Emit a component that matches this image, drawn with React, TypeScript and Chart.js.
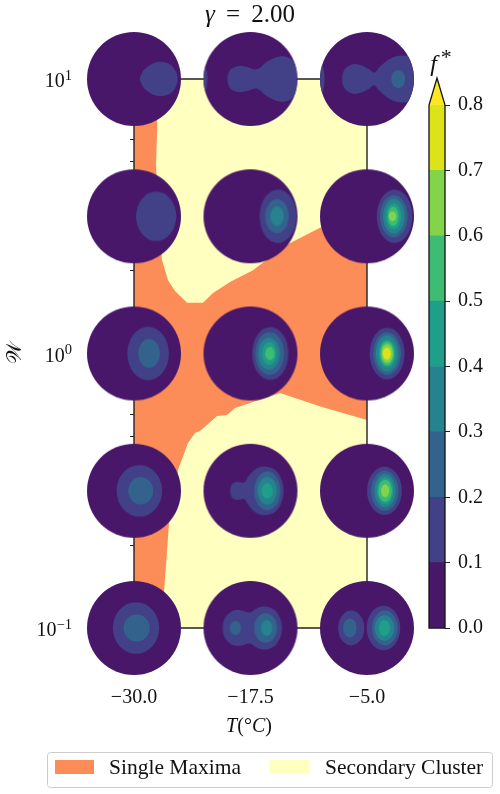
import React, { useEffect, useRef } from "react";
import { Chart, registerables } from "chart.js";

Chart.register(...registerables);

const FONT = '"Liberation Serif", serif';
const MATH_FONT = '"DejaVu Serif", "DejaVu Sans", "Noto Sans", serif';
const INK = "#111111";

// Axes
const xTickValues = [-30, -17.5, -5];
const yMajorTicks = [0.1, 1, 10];
const yMajorExponents = ["\u22121", "0", "1"];
const yMinorTicks = [0.2, 0.3, 0.4, 0.5, 0.6, 0.7, 0.8, 0.9, 2, 3, 4, 5, 6, 7, 8, 9];
const colorbarTicks = [0, 0.1, 0.2, 0.3, 0.4, 0.5, 0.6, 0.7, 0.8];

// Filled regimes
const singleMaximaLabel = "Single Maxima";
const secondaryClusterLabel = "Secondary Cluster";
const singleMaximaColor = "#fc8d59";
const secondaryClusterColor = "#ffffbf";
const upperT = [-27.64, -27.5, -27.64, -27.42, -27.0, -26.67, -26.35, -25.6, -24.31, -22.6, -21.52, -19.7, -17.23, -13.8, -10.04, -5];
const upperW = [10, 6.69, 4.94, 3.33, 2.19, 2.01, 1.85, 1.69, 1.53, 1.53, 1.66, 1.82, 2.01, 2.47, 2.87, 3.47];
const lowerT = [-26.89, -26.78, -26.24, -25.28, -24.21, -23.45, -22.92, -22.17, -21.09, -20.02, -19.16, -17.23, -14.33, -9.83, -5];
const lowerW = [0.1, 0.135, 0.241, 0.376, 0.472, 0.513, 0.522, 0.549, 0.592, 0.597, 0.633, 0.666, 0.718, 0.638, 0.572];

// Contour levels of f*
const levels = [0, 0.1, 0.2, 0.3, 0.4, 0.5, 0.6, 0.7, 0.8];
const levelColors = ["#481769", "#424086", "#33638d", "#26828e", "#1f9e89", "#3fbc73", "#84d44b", "#dce319"];
const overColor = "#fde725";

// Inset positions
const insetT = [-30, -17.5, -5];
const insetW = [10, 3.162, 1, 0.3162, 0.1];

// Contours inside each inset, in disc units (disc radius = 140).
// [band, cx, cy, rx, ry] is an ellipse, [band, outline] a shape mirrored about the horizontal.
const top30 = [
  [1, [[17, 0], [24, -18], [35, -33], [60, -48], [85, -51], [110, -42], [126, -20], [130, 0]]],
];
const top17 = [
  [1, -150, 0, 22, 55],
  [1, [[-69, 0], [-60, -28], [-35, -39], [-10, -36], [20, -29], [50, -52], [85, -67], [115, -63], [135, -40], [138, 0]]],
];
const top5 = [
  [1, -150, 0, 24, 60],
  [1, [[-74, 0], [-68, -27], [-45, -43], [-20, -42], [5, -30], [22, -19], [40, -38], [65, -58], [95, -69], [125, -66], [142, -45], [145, 0]]],
  [2, 93, 0, 21, 27],
];
const upper30 = [[1, 66, 0, 60, 74]];
const upper17 = [[1, 82, 0, 55, 80], [2, 79, 0, 35, 51], [3, 79, 0, 20, 30]];
const upper5 = [[1, 82, 0, 53, 80], [2, 80, 0, 41, 63], [3, 80, 0, 32, 52], [4, 79, 0, 23, 39], [5, 78, 0, 16, 29], [6, 76, 0, 11, 14.5]];
const mid30 = [[1, 42, 0, 62, 80], [2, 45, 0, 32, 43]];
const mid17 = [[1, 59, 0, 54, 79], [2, 57, 0, 43, 64], [3, 55, 0, 32, 48], [4, 56, 0, 22, 34], [5, 58, 0, 14, 20]];
const mid5 = [[1, 60, 0, 52, 77], [2, 60, 0, 41, 64], [3, 60, 0, 34, 54], [4, 60, 0, 26, 42], [5, 60, 0, 21, 36], [6, 60, 0, 17, 28], [7, 59, 0, 12, 18]];
const lower30 = [[1, 16, 0, 68, 77], [2, 20, 0, 37, 41]];
const lower17 = [
  [1, [[-61, 0], [-55, -20], [-38, -27], [-18, -25], [-5, -45], [15, -65], [40, -73], [70, -65], [90, -40], [99, 0]]],
  [2, 50, 0, 39, 58], [3, 50, 0, 29, 41], [4, 50, 0, 17, 23],
];
const lower5 = [[1, 52, 0, 52, 72], [2, 53, 0, 41, 60], [3, 54, 0, 32, 50], [4, 54, 0, 25, 40], [5, 54, 0, 20, 33], [6, 54, 0, 12, 19]];
const bottom30 = [[1, 6, 0, 69, 77], [2, 8, 0, 39, 40]];
const bottom17 = [
  [1, [[-83, 0], [-76, -30], [-55, -50], [-30, -53], [-3, -46], [15, -56], [40, -65], [70, -55], [88, -30], [94, 0]]],
  [2, -45, 0, 17, 21], [2, 45, 0, 34, 44], [3, 48, 0, 17, 24],
];
const bottom5 = [[1, -47, 0, 39, 52], [2, -51, 0, 20, 28], [1, 49, 0, 50, 66], [2, 53, 0, 38, 52], [3, 52, 0, 29, 38], [4, 52, 0, 17, 24]];

const insetContours = [
  top30, top17, top5,
  upper30, upper17, upper5,
  mid30, mid17, mid5,
  lower30, lower17, lower5,
  bottom30, bottom17, bottom5,
];

function makeInset(contours: any[]) {
  const size = 100;
  const radius = 47;
  const c = document.createElement("canvas");
  c.width = size;
  c.height = size;
  const g = c.getContext("2d")!;
  g.translate(size / 2, size / 2);
  g.beginPath();
  g.arc(0, 0, radius, 0, Math.PI * 2);
  g.fillStyle = levelColors[0];
  g.fill();
  g.save();
  g.beginPath();
  g.arc(0, 0, radius, 0, Math.PI * 2);
  g.clip();
  const k = radius / 140;
  for (const shape of contours) {
    g.fillStyle = levelColors[shape[0]];
    g.beginPath();
    if (Array.isArray(shape[1])) {
      const half = shape[1] as number[][];
      const lower = half.slice(1, -1).reverse().map(([u, v]) => [u, -v]);
      const pts = [...half, ...lower].map(([u, v]) => [u * k, v * k]);
      const n = pts.length;
      g.moveTo(pts[0][0], pts[0][1]);
      for (let i = 0; i < n; i++) {
        const p0 = pts[(i - 1 + n) % n];
        const p1 = pts[i];
        const p2 = pts[(i + 1) % n];
        const p3 = pts[(i + 2) % n];
        g.bezierCurveTo(
          p1[0] + (p2[0] - p0[0]) / 6,
          p1[1] + (p2[1] - p0[1]) / 6,
          p2[0] - (p3[0] - p1[0]) / 6,
          p2[1] - (p3[1] - p1[1]) / 6,
          p2[0],
          p2[1]
        );
      }
      g.closePath();
    } else {
      g.ellipse(shape[1] * k, shape[2] * k, shape[3] * k, shape[4] * k, 0, 0, Math.PI * 2);
    }
    g.fill();
  }
  g.restore();
  return c;
}

type Run = { t: string; italic?: boolean; size: number; dy?: number; font?: string };

function drawRuns(ctx: CanvasRenderingContext2D, runs: Run[], anchor: number, base: number, align: "center" | "right" = "center") {
  const setFont = (r: Run) => {
    ctx.font = `${r.italic ? "italic " : ""}${r.size}px ${r.font || FONT}`;
  };
  let total = 0;
  for (const r of runs) {
    setFont(r);
    total += ctx.measureText(r.t).width;
  }
  let x = align === "center" ? anchor - total / 2 : anchor - total;
  ctx.textAlign = "left";
  ctx.textBaseline = "alphabetic";
  ctx.fillStyle = INK;
  for (const r of runs) {
    setFont(r);
    ctx.fillText(r.t, x, base + (r.dy || 0));
    x += ctx.measureText(r.t).width;
  }
}

const annotations = {
  id: "annotations",
  afterDraw(chart: any) {
    const ctx: CanvasRenderingContext2D = chart.ctx;
    ctx.save();
    drawRuns(ctx, [{ t: "γ", italic: true, size: 25 }, { t: " \u2009=\u2009 2.00", size: 25 }], 250, 22);
    drawRuns(
      ctx,
      [
        { t: "T", italic: true, size: 20 },
        { t: "(°", size: 20 },
        { t: "C", italic: true, size: 20 },
        { t: ")", size: 20 },
      ],
      249,
      732
    );
    yMajorTicks.forEach((value, i) => {
      const py = chart.scales.y.getPixelForValue(value);
      drawRuns(
        ctx,
        [
          { t: "10", size: 20 },
          { t: yMajorExponents[i], size: 14.5, dy: -7.5 },
        ],
        72,
        py + 8,
        "right"
      );
    });
    ctx.save();
    ctx.translate(21, 353);
    ctx.rotate(-Math.PI / 2);
    drawRuns(ctx, [{ t: "\u{1D4B2}", size: 21, font: MATH_FONT }], 0, 0);
    ctx.restore();

    // legend
    ctx.beginPath();
    ctx.roundRect(47.5, 752.5, 445, 35, 3);
    ctx.fillStyle = "#ffffff";
    ctx.fill();
    ctx.strokeStyle = "#cccccc";
    ctx.lineWidth = 1;
    ctx.stroke();
    ctx.fillStyle = singleMaximaColor;
    ctx.fillRect(55, 760, 39, 14);
    ctx.fillStyle = secondaryClusterColor;
    ctx.fillRect(270, 760, 40, 14);
    ctx.fillStyle = INK;
    ctx.font = `21.5px ${FONT}`;
    ctx.textAlign = "left";
    ctx.textBaseline = "alphabetic";
    ctx.fillText(singleMaximaLabel, 109, 774);
    ctx.fillText(secondaryClusterLabel, 325, 774);
    ctx.restore();
  },
};

const colorbarDecor = {
  id: "colorbarDecor",
  afterDraw(chart: any) {
    const ctx: CanvasRenderingContext2D = chart.ctx;
    const { left, right, top, bottom } = chart.chartArea;
    const mid = (left + right) / 2;
    const tip = top - 27;
    ctx.save();
    ctx.beginPath();
    ctx.moveTo(left, top);
    ctx.lineTo(mid, tip);
    ctx.lineTo(right, top);
    ctx.closePath();
    ctx.fillStyle = overColor;
    ctx.fill();
    ctx.beginPath();
    ctx.moveTo(left, bottom);
    ctx.lineTo(left, top);
    ctx.lineTo(mid, tip);
    ctx.lineTo(right, top);
    ctx.lineTo(right, bottom);
    ctx.closePath();
    ctx.strokeStyle = INK;
    ctx.lineWidth = 1.3;
    ctx.stroke();
    drawRuns(ctx, [{ t: "f", italic: true, size: 24 }, { t: "\u2009", size: 18 }, { t: "*", size: 22, dy: -7 }], 41, 71);
    ctx.restore();
  },
};

export default function App() {
  const mainRef = useRef<HTMLCanvasElement>(null);
  const barRef = useRef<HTMLCanvasElement>(null);

  useEffect(() => {
    const insets = insetContours.map(makeInset);
    const insetPoints: { x: number; y: number }[] = [];
    insetW.forEach((w) => insetT.forEach((t) => insetPoints.push({ x: t, y: w })));

    const main = new Chart(mainRef.current!, {
      type: "line",
      data: {
        datasets: [
          {
            label: "f*",
            data: insetPoints,
            showLine: false,
            pointStyle: (c: any) => insets[c.dataIndex],
            pointRadius: 4,
            clip: false,
          },
          {
            label: "frame",
            data: [
              { x: -30, y: 0.1 },
              { x: -30, y: 10 },
              { x: -5, y: 10 },
              { x: -5, y: 0.1 },
              { x: -30, y: 0.1 },
            ],
            borderColor: "#222222",
            borderWidth: 1.4,
            pointRadius: 0,
            fill: false,
            clip: false,
          },
          {
            label: secondaryClusterLabel,
            data: upperT.map((x, i) => ({ x, y: upperW[i] })),
            borderWidth: 0,
            pointRadius: 0,
            backgroundColor: secondaryClusterColor,
            fill: "end",
          },
          {
            label: secondaryClusterLabel,
            data: lowerT.map((x, i) => ({ x, y: lowerW[i] })),
            borderWidth: 0,
            pointRadius: 0,
            backgroundColor: secondaryClusterColor,
            fill: "start",
          },
          {
            label: singleMaximaLabel,
            data: [
              { x: -30, y: 10 },
              { x: -5, y: 10 },
            ],
            borderWidth: 0,
            pointRadius: 0,
            backgroundColor: singleMaximaColor,
            fill: "start",
          },
        ] as any,
      },
      options: {
        animation: false,
        responsive: false,
        layout: { autoPadding: false, padding: { left: 0, top: 79, right: 133, bottom: 0 } },
        plugins: { legend: { display: false }, title: { display: false }, tooltip: { enabled: false } },
        scales: {
          x: {
            type: "linear",
            min: -30,
            max: -5,
            border: { display: false },
            grid: { drawOnChartArea: false, tickLength: 4, tickColor: "#222222" },
            afterBuildTicks: (s: any) => {
              s.ticks = xTickValues.map((value) => ({ value }));
            },
            afterFit: (s: any) => {
              s.height = 166;
            },
            ticks: {
              autoSkip: false,
              maxRotation: 0,
              padding: 54,
              color: INK,
              font: { family: FONT, size: 20 },
              callback: (v: any) => "\u2212" + Math.abs(Number(v)).toFixed(1),
            },
          },
          y: {
            type: "logarithmic",
            min: 0.1,
            max: 10,
            border: { display: false },
            grid: { drawOnChartArea: false, tickLength: 4, tickColor: "#222222" },
            afterBuildTicks: (s: any) => {
              s.ticks = [...yMajorTicks, ...yMinorTicks].sort((a, b) => a - b).map((value) => ({ value }));
            },
            afterFit: (s: any) => {
              s.width = 134;
            },
            ticks: {
              display: false,
              autoSkip: false,
            },
          },
        },
      } as any,
      plugins: [annotations],
    });

    const bar = new Chart(barRef.current!, {
      type: "bar",
      data: {
        labels: ["f*"],
        datasets: levelColors.map((color, i) => ({
          label: `${levels[i]}-${levels[i + 1]}`,
          data: [[levels[i], levels[i + 1]]],
          backgroundColor: color,
          borderWidth: 0,
          barPercentage: 1,
          categoryPercentage: 1,
        })) as any,
      },
      options: {
        animation: false,
        responsive: false,
        layout: { autoPadding: false, padding: { left: 29, top: 105, right: 0, bottom: 166 } },
        plugins: { legend: { display: false }, tooltip: { enabled: false } },
        scales: {
          x: { display: false, stacked: true },
          y: {
            position: "right",
            min: 0,
            max: 0.8,
            border: { display: false },
            grid: { drawOnChartArea: false, tickLength: 5, tickColor: "#222222" },
            afterBuildTicks: (s: any) => {
              s.ticks = colorbarTicks.map((value) => ({ value }));
            },
            afterFit: (s: any) => {
              s.width = 55;
            },
            ticks: {
              padding: 8,
              color: INK,
              font: { family: FONT, size: 20 },
              callback: (v: any) => Number(v).toFixed(1),
            },
          },
        },
      } as any,
      plugins: [colorbarDecor],
    });

    return () => {
      main.destroy();
      bar.destroy();
    };
  }, []);

  return (
    <div style={{ position: "absolute", left: 0, top: 0, width: 500, height: 794, overflow: "hidden" }}>
      <canvas ref={mainRef} width={500} height={794} style={{ position: "absolute", left: 0, top: 0, display: "block" }} />
      <canvas ref={barRef} width={100} height={794} style={{ position: "absolute", left: 400, top: 0, display: "block" }} />
    </div>
  );
}
